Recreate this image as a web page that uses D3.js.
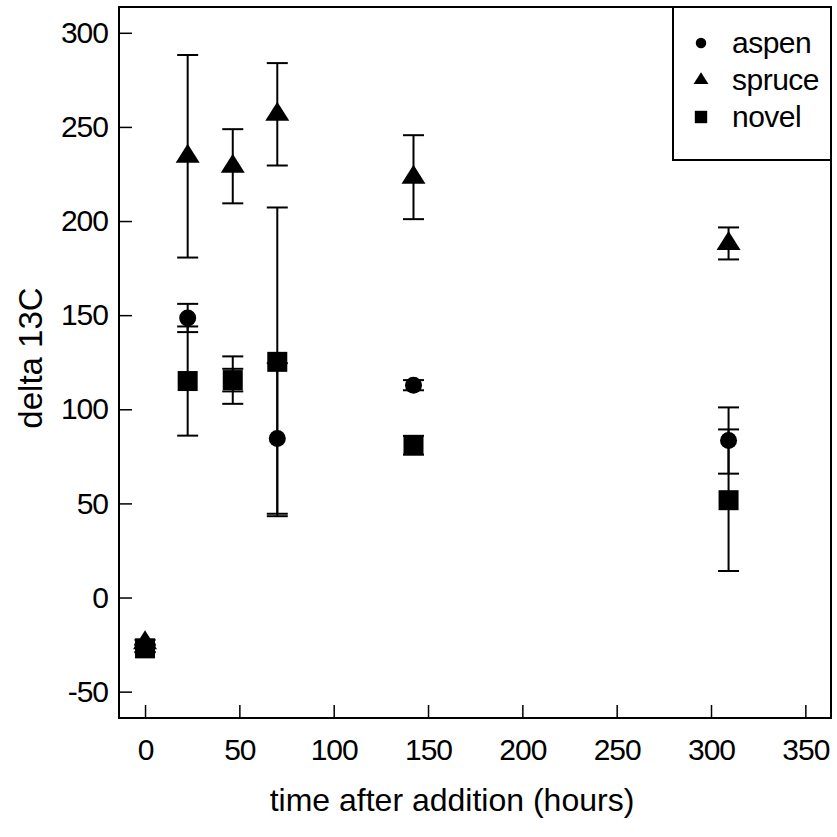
<!DOCTYPE html>
<html>
<head>
<meta charset="utf-8">
<script src="https://cdn.jsdelivr.net/npm/d3@7"></script>
<style>
  body { margin: 0; background: #fff; }
  svg { display: block; font-family: "Liberation Sans", Arial, sans-serif; }
</style>
</head>
<body>
<div id="chart"></div>
<script>
// hours after the label was added
const times = [0, 22.6, 46.5, 70.1, 142.3, 309.3];

// means and error bar half lengths, one list per species
const aspenMean = [-27, 148.5, 115.5, 84.5, 112.8, 83.4];
const aspenErr = [2, 7.5, 6, 40, 2.7, 17.6];
const spruceMean = [-24, 234.4, 229.1, 256.7, 223.3, 188.1];
const spruceErr = [1.5, 53.8, 19.7, 27.2, 22.3, 8.5];
const novelMean = [-27, 115, 115.5, 125.2, 80.9, 51.7];
const novelErr = [2, 29, 12.6, 82, 5, 37.6];

const seriesNames = ["aspen", "spruce", "novel"];
const xTicks = [0, 50, 100, 150, 200, 250, 300, 350];
const yTicks = [-50, 0, 50, 100, 150, 200, 250, 300];

const width = 837,
  height = 837,
  margin = { top: 7, right: 6, bottom: 119, left: 119 };

const series = [
  { name: "aspen", mean: aspenMean, err: aspenErr, shape: "circle" },
  { name: "spruce", mean: spruceMean, err: spruceErr, shape: "triangle" },
  { name: "novel", mean: novelMean, err: novelErr, shape: "square" }
];

const xScale = d3.scaleLinear()
  .domain([-13.8, 363.6])
  .range([margin.left, width - margin.right]);

const yScale = d3.scaleLinear()
  .domain([-64, 313.7])
  .range([height - margin.bottom, margin.top]);

const svg = d3.select("#chart")
  .append("svg")
  .attr("width", width)
  .attr("height", height);

// axes, ticks point inward, plain hyphen for negatives
const xAxis = d3.axisBottom(xScale)
  .tickValues(xTicks)
  .tickFormat(d => String(d))
  .tickSizeInner(-13)
  .tickSizeOuter(0)
  .tickPadding(21);

const yAxis = d3.axisLeft(yScale)
  .tickValues(yTicks)
  .tickFormat(d => String(d))
  .tickSizeInner(-13)
  .tickSizeOuter(0)
  .tickPadding(11);

const gx = svg.append("g")
  .attr("transform", `translate(0,${height - margin.bottom})`)
  .call(xAxis);

const gy = svg.append("g")
  .attr("transform", `translate(${margin.left},0)`)
  .call(yAxis);

[gx, gy].forEach(g => {
  g.select(".domain").remove();
  g.selectAll(".tick line").attr("stroke", "#000").attr("stroke-width", 1.5);
  g.selectAll(".tick text")
    .attr("fill", "#000")
    .style("font-size", "30px")
    .style("letter-spacing", "-1px");
});

// frame
svg.append("rect")
  .attr("x", xScale.range()[0])
  .attr("y", yScale.range()[1])
  .attr("width", xScale.range()[1] - xScale.range()[0])
  .attr("height", yScale.range()[0] - yScale.range()[1])
  .attr("fill", "none")
  .attr("stroke", "#000")
  .attr("stroke-width", 2);

// axis titles
svg.append("text")
  .attr("x", 452)
  .attr("y", 811)
  .attr("text-anchor", "middle")
  .style("font-size", "32px")
  .text("time after addition (hours)");

svg.append("text")
  .attr("transform", "translate(42,358) rotate(-90)")
  .attr("text-anchor", "middle")
  .style("font-size", "33px")
  .text("delta 13C");

function marker(sel, shape, s) {
  if (shape === "circle") {
    sel.append("circle").attr("r", 8.5 * s).attr("fill", "#000");
  } else if (shape === "square") {
    sel.append("rect")
      .attr("x", -10 * s).attr("y", -10 * s)
      .attr("width", 20 * s).attr("height", 20 * s)
      .attr("fill", "#000");
  } else {
    sel.append("path")
      .attr("d", `M0,${-12.5 * s}L${12 * s},${6.5 * s}L${-12 * s},${6.5 * s}Z`)
      .attr("fill", "#000");
  }
}

// error bars and markers
series.forEach(sr => {
  const pts = times.map((t, i) => ({ t: t, m: sr.mean[i], e: sr.err[i] }));
  const g = svg.append("g").attr("class", sr.name);

  const bars = g.selectAll("g.bar")
    .data(pts)
    .join("g")
    .attr("class", "bar")
    .attr("stroke", "#000")
    .attr("stroke-width", 2);

  bars.append("line")
    .attr("x1", d => xScale(d.t)).attr("x2", d => xScale(d.t))
    .attr("y1", d => yScale(d.m + d.e)).attr("y2", d => yScale(d.m - d.e));
  bars.append("line")
    .attr("x1", d => xScale(d.t) - 10.5).attr("x2", d => xScale(d.t) + 10.5)
    .attr("y1", d => yScale(d.m + d.e)).attr("y2", d => yScale(d.m + d.e));
  bars.append("line")
    .attr("x1", d => xScale(d.t) - 10.5).attr("x2", d => xScale(d.t) + 10.5)
    .attr("y1", d => yScale(d.m - d.e)).attr("y2", d => yScale(d.m - d.e));

  g.selectAll("g.pt")
    .data(pts)
    .join("g")
    .attr("class", "pt")
    .attr("transform", d => `translate(${xScale(d.t)},${yScale(d.m)})`)
    .each(function() { marker(d3.select(this), sr.shape, 1); });
});

// legend
const legend = svg.append("g");
legend.append("rect")
  .attr("x", 673)
  .attr("y", margin.top)
  .attr("width", width - margin.right - 673)
  .attr("height", 160 - margin.top)
  .attr("fill", "#fff")
  .attr("stroke", "#000")
  .attr("stroke-width", 2);

const items = legend.selectAll("g.item")
  .data(series)
  .join("g")
  .attr("class", "item")
  .attr("transform", (d, i) => `translate(701,${43 + i * 37})`);

items.each(function(d) { marker(d3.select(this), d.shape, 0.62); });

items.append("text")
  .attr("x", 31)
  .attr("y", 10)
  .style("font-size", "30px")
  .style("letter-spacing", "-0.5px")
  .text((d, i) => seriesNames[i]);
</script>
</body>
</html>
